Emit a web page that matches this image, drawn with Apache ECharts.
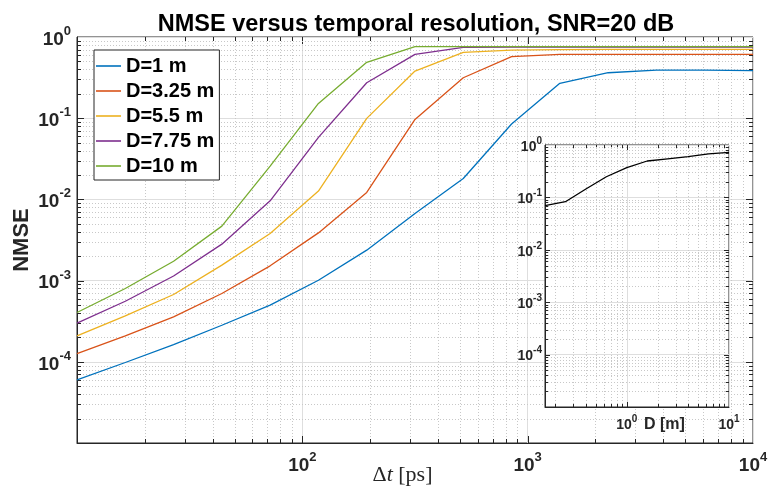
<!DOCTYPE html>
<html>
<head>
<meta charset="utf-8">
<script src="https://cdn.jsdelivr.net/npm/echarts@6/dist/echarts.min.js"></script>
<style>
html,body{margin:0;padding:0;background:#fff;}
#chart{width:770px;height:489px;}
</style>
</head>
<body>
<div id="chart"></div>
<script>
// ---- data ----
var dtValues = [10, 16.38, 26.83, 43.94, 71.97, 117.9, 193.1, 316.2, 517.9, 848.3, 1389, 2276, 3728, 6105, 10000];
var seriesNames = ['D=1 m', 'D=3.25 m', 'D=5.5 m', 'D=7.75 m', 'D=10 m'];
var nmseD1   = [6.0e-5, 9.8e-5, 1.63e-4, 2.82e-4, 4.98e-4, 1.01e-3, 2.37e-3, 6.7e-3, 0.0181, 0.0847, 0.269, 0.363, 0.392, 0.392, 0.385];
var nmseD325 = [1.26e-4, 2.08e-4, 3.57e-4, 6.93e-4, 1.52e-3, 3.87e-3, 0.0122, 0.0967, 0.315, 0.572, 0.612, 0.612, 0.612, 0.612, 0.612];
var nmseD55  = [2.08e-4, 3.67e-4, 6.74e-4, 1.55e-3, 3.81e-3, 0.01265, 0.0995, 0.381, 0.648, 0.69, 0.70, 0.705, 0.705, 0.705, 0.705];
var nmseD775 = [3.0e-4, 5.57e-4, 1.14e-3, 2.81e-3, 9.6e-3, 0.058, 0.273, 0.612, 0.746, 0.75, 0.75, 0.75, 0.75, 0.75, 0.75];
var nmseD10  = [4.05e-4, 8.0e-4, 1.73e-3, 4.69e-3, 0.0257, 0.152, 0.488, 0.76, 0.76, 0.76, 0.76, 0.76, 0.76, 0.76, 0.76];
var seriesColors = ['#0072BD', '#D95319', '#EDB120', '#7E2F8E', '#77AC30'];

var insetD    = [0.1585, 0.2512, 0.3981, 0.631, 1, 1.585, 2.512, 3.981, 6.31, 10];
var insetNmse = [0.0695, 0.0828, 0.145, 0.248, 0.369, 0.495, 0.545, 0.598, 0.675, 0.726];

// axis ranges and tick decades
var mainXRange = [10, 10000];
var mainYRange = [1e-5, 1];
var insetXRange = [0.1585, 10];
var insetYRange = [1e-5, 1];
var mainXDecades = [10, 100, 1000];
var mainYDecades = [1e-5, 1e-4, 1e-3, 1e-2, 1e-1];
var insetXDecades = [0.1, 1];
var insetYDecades = [1e-5, 1e-4, 1e-3, 1e-2, 1e-1];
var minorMultipliers = [2, 3, 4, 5, 6, 7, 8, 9];

var FONT = '"Liberation Sans", Arial, Helvetica, sans-serif';
var TXT = '#262626';

function pairs(xs, ys) { return xs.map(function (x, i) { return [x, ys[i]]; }); }

function minorVals(decades, range) {
  var out = [];
  decades.forEach(function (d) {
    minorMultipliers.forEach(function (m) {
      var v = d * m;
      if (v > range[0] * 1.0001 && v < range[1] * 0.9999) out.push(v);
    });
  });
  return out;
}
function majorVals(decades, range) {
  var out = [];
  decades.concat([decades[decades.length - 1] * 10]).forEach(function (d) {
    if (d > range[0] * 1.0001 && d < range[1] * 0.9999) out.push(d);
  });
  return out;
}

function tickData(xr, yr, xd, yd) {
  var data = [];
  var yRef = Math.sqrt(yr[0] * yr[1]);
  var xRef = Math.sqrt(xr[0] * xr[1]);
  minorVals(xd, xr).forEach(function (v) { data.push([v, yRef, 0, 0]); });
  majorVals(xd, xr).forEach(function (v) { data.push([v, yRef, 1, 0]); });
  minorVals(yd, yr).forEach(function (v) { data.push([xRef, v, 0, 1]); });
  majorVals(yd, yr).forEach(function (v) { data.push([xRef, v, 1, 1]); });
  return data;
}

function makeRender(majorLen, minorLen) {
  return function (params, api) {
    var cs = params.coordSys;
    var major = api.value(2) === 1;
    var isY = api.value(3) === 1;
    var p = api.coord([api.value(0), api.value(1)]);
    var len = major ? majorLen : minorLen;
    var kids = [];
    var gridStyle = { stroke: '#c8c8c8', lineWidth: 1, lineDash: [1, 2] };
    var tickStyle = { stroke: TXT, lineWidth: 1 };
    if (!isY) {
      var px = Math.round(p[0]) + 0.5;
      if (!major) kids.push({ type: 'line', shape: { x1: px, y1: cs.y, x2: px, y2: cs.y + cs.height }, style: gridStyle });
      kids.push({ type: 'line', shape: { x1: px, y1: cs.y + cs.height, x2: px, y2: cs.y + cs.height - len }, style: tickStyle });
      kids.push({ type: 'line', shape: { x1: px, y1: cs.y, x2: px, y2: cs.y + len }, style: tickStyle });
    } else {
      var py = Math.round(p[1]) + 0.5;
      if (!major) kids.push({ type: 'line', shape: { x1: cs.x, y1: py, x2: cs.x + cs.width, y2: py }, style: gridStyle });
      kids.push({ type: 'line', shape: { x1: cs.x, y1: py, x2: cs.x + len, y2: py }, style: tickStyle });
      kids.push({ type: 'line', shape: { x1: cs.x + cs.width, y1: py, x2: cs.x + cs.width - len, y2: py }, style: tickStyle });
    }
    return { type: 'group', children: kids };
  };
}

function supFormatter(hideExps) {
  return function (v) {
    var e = Math.log10(v);
    var r = Math.round(e);
    if (Math.abs(e - r) > 1e-6) return '';
    if (hideExps.indexOf(r) >= 0) return '';
    return '{b|10}{s|' + r + '}';
  };
}
function supRich(big, small, lh) {
  return {
    b: { fontSize: big, fontWeight: 'bold', fontFamily: FONT, color: TXT, lineHeight: lh, verticalAlign: 'bottom' },
    s: { fontSize: small, fontWeight: 'bold', fontFamily: FONT, color: TXT, lineHeight: lh, verticalAlign: 'top' }
  };
}

var mainSeriesData = [nmseD1, nmseD325, nmseD55, nmseD775, nmseD10];

var chart = echarts.init(document.getElementById('chart'), null, { renderer: 'canvas' });

var option = {
  backgroundColor: '#ffffff',
  animation: false,
  title: {
    text: 'NMSE versus temporal resolution, SNR=20 dB',
    left: 411, top: 8, textAlign: 'center',
    textStyle: { fontSize: 23.5, fontWeight: 'bold', color: '#000', fontFamily: FONT }
  },
  legend: {
    orient: 'vertical', left: 94, top: 50,
    icon: 'rect',
    itemWidth: 25, itemHeight: 1.6, itemGap: 5,
    padding: [6, 5, 4, 2],
    borderColor: TXT, borderWidth: 1, backgroundColor: '#fff',
    textStyle: { fontSize: 20, fontWeight: 'bold', color: '#000', fontFamily: FONT, lineHeight: 20 },
    data: seriesNames,
    z: 10
  },
  grid: [
    { left: 77, top: 37, right: 17, bottom: 46, show: true, borderColor: TXT, borderWidth: 1, backgroundColor: 'transparent', z: 0, containLabel: false, outerBoundsMode: 'none' },
    { left: 545, top: 145, width: 184, height: 262, show: true, borderColor: TXT, borderWidth: 1, backgroundColor: '#fff', z: 5, containLabel: false, outerBoundsMode: 'none' }
  ],
  xAxis: [
    {
      type: 'log', gridIndex: 0, min: mainXRange[0], max: mainXRange[1], logBase: 10,
      axisLine: { show: true, lineStyle: { color: TXT, width: 1 } },
      axisTick: { show: false },
      splitLine: { show: true, lineStyle: { color: '#dedede', width: 1 } },
      axisLabel: { formatter: supFormatter([1]), margin: 8, rich: supRich(19, 13, 24) },
      name: '{n|\u0394}{i|t}{n| [ps]}', nameLocation: 'middle', nameGap: 21, nameMoveOverlap: false,
      nameTextStyle: {
        padding: [0, 25, 0, 0],
        rich: {
          n: { fontFamily: '"Liberation Serif", "Times New Roman", serif', fontSize: 22, color: TXT },
          i: { fontFamily: '"Liberation Serif", "Times New Roman", serif', fontSize: 22, fontStyle: 'italic', color: TXT }
        }
      }
    },
    {
      type: 'log', gridIndex: 1, min: insetXRange[0], max: insetXRange[1], logBase: 10, z: 6,
      axisLine: { show: true, lineStyle: { color: TXT, width: 1 } },
      axisTick: { show: false },
      splitLine: { show: true, lineStyle: { color: '#dedede', width: 1 } },
      axisLabel: { formatter: supFormatter([]), margin: 7, rich: supRich(14, 10, 18) }
    }
  ],
  yAxis: [
    {
      type: 'log', gridIndex: 0, min: mainYRange[0], max: mainYRange[1], logBase: 10,
      axisLine: { show: true, lineStyle: { color: TXT, width: 1 } },
      axisTick: { show: false },
      splitLine: { show: true, lineStyle: { color: '#dedede', width: 1 } },
      axisLabel: { formatter: supFormatter([-5]), margin: 6, rich: supRich(19, 13, 24) },
      name: 'NMSE', nameLocation: 'middle', nameGap: 44, nameMoveOverlap: false,
      nameTextStyle: { fontSize: 22, fontWeight: 'bold', color: TXT, fontFamily: FONT }
    },
    {
      type: 'log', gridIndex: 1, min: insetYRange[0], max: insetYRange[1], logBase: 10, z: 6,
      axisLine: { show: true, lineStyle: { color: TXT, width: 1 } },
      axisTick: { show: false },
      splitLine: { show: true, lineStyle: { color: '#dedede', width: 1 } },
      axisLabel: { formatter: supFormatter([-5]), margin: 3, rich: supRich(14, 10, 18) }
    }
  ],
  graphic: [
    {
      type: 'text', left: 644, top: 417, z: 20,
      style: { text: 'D [m]', fontSize: 16, fontWeight: 'bold', fill: TXT, fontFamily: FONT }
    }
  ],
  series: [
    {
      type: 'custom', xAxisIndex: 0, yAxisIndex: 0, z: 1, silent: true,
      encode: { x: 0, y: 1 },
      data: tickData(mainXRange, mainYRange, mainXDecades, mainYDecades),
      renderItem: makeRender(7, 4)
    },
    {
      type: 'custom', xAxisIndex: 1, yAxisIndex: 1, z: 6, silent: true,
      encode: { x: 0, y: 1 },
      data: tickData(insetXRange, insetYRange, insetXDecades, insetYDecades),
      renderItem: makeRender(5, 3)
    }
  ].concat(mainSeriesData.map(function (arr, i) {
    return {
      name: seriesNames[i], type: 'line', xAxisIndex: 0, yAxisIndex: 0,
      data: pairs(dtValues, arr), symbol: 'none', z: 2,
      color: seriesColors[i],
      lineStyle: { width: 1.3, color: seriesColors[i] }
    };
  })).concat([
    {
      name: 'inset', type: 'line', xAxisIndex: 1, yAxisIndex: 1,
      data: pairs(insetD, insetNmse), symbol: 'none', z: 7,
      color: '#000', lineStyle: { width: 1.3, color: '#000' }
    }
  ])
};
chart.setOption(option);
</script>
</body>
</html>
